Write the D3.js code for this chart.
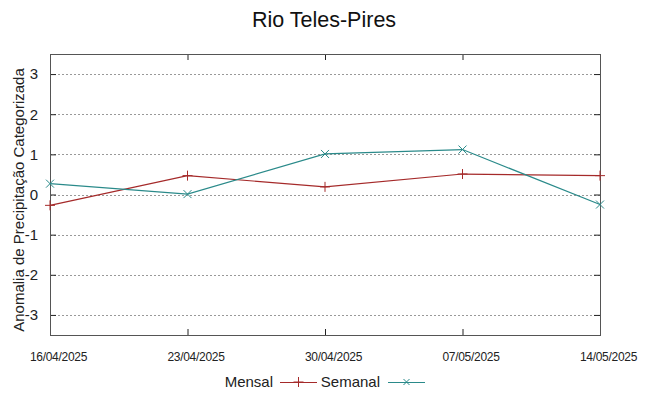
<!DOCTYPE html>
<html>
<head>
<meta charset="utf-8">
<script src="https://d3js.org/d3.v7.min.js"></script>
<style>
  body { margin: 0; background: #fff; }
  text { font-family: "Liberation Sans", Arial, sans-serif; }
</style>
</head>
<body>
<div id="chart"></div>
<script>
var width = 648;
var height = 396;

// data
var dates = ["16/04/2025", "23/04/2025", "30/04/2025", "07/05/2025", "14/05/2025"];
var mensal = [-0.27, 0.47, 0.19, 0.51, 0.47];
var semanal = [0.27, 0.01, 1.01, 1.12, -0.25];
var yTicks = [-3, -2, -1, 0, 1, 2, 3];

var redColor = '#a52a2a';
var tealColor = '#2a8a8a';

var margin = {left: 50, right: 48, top: 54, bottom: 61};

var svg = d3.select("#chart")
  .append("svg")
  .attr("width", width)
  .attr("height", height);

svg.append("rect")
  .attr("width", "100%")
  .attr("height", "100%")
  .attr("fill", "white");

var x = d3.scalePoint()
  .domain(dates)
  .range([margin.left, width - margin.right]);

var y = d3.scaleLinear()
  .domain([-3.5, 3.5])
  .range([height - margin.bottom, margin.top]);

// grid lines (dotted)
svg.append("g")
  .selectAll("line")
  .data(yTicks)
  .enter()
  .append("line")
  .attr("x1", margin.left)
  .attr("x2", width - margin.right)
  .attr("y1", function(d) { return Math.round(y(d)) + 0.5; })
  .attr("y2", function(d) { return Math.round(y(d)) + 0.5; })
  .style("stroke", "#999")
  .style("stroke-width", 1)
  .style("stroke-dasharray", "2,2");

// left axis, ticks pointing inside
var yAxis = d3.axisLeft(y).tickValues(yTicks).tickSize(-6).tickPadding(12)
  .tickFormat(function(d) { return String(d); });
var gy = svg.append("g")
  .attr("transform", "translate(" + margin.left + ",0)")
  .call(yAxis);
gy.select(".domain").remove();
gy.selectAll("line").style("stroke", "#222");
gy.selectAll("text").style("font-size", "15px").style("fill", "#222");

// right mirror ticks
var yAxisR = d3.axisRight(y).tickValues(yTicks).tickSize(-6).tickFormat("");
var gyr = svg.append("g")
  .attr("transform", "translate(" + (width - margin.right) + ",0)")
  .call(yAxisR);
gyr.select(".domain").remove();
gyr.selectAll("line").style("stroke", "#222");

// bottom axis
var xAxis = d3.axisBottom(x).tickSize(-6).tickPadding(17);
var gx = svg.append("g")
  .attr("transform", "translate(0," + (height - margin.bottom) + ")")
  .call(xAxis);
gx.select(".domain").remove();
gx.selectAll("line").style("stroke", "#222");
gx.selectAll("text")
  .attr("x", 8)   // labels sit a bit right of the tick, like in the original
  .style("font-size", "12px")
  .style("fill", "#222")
  .style("letter-spacing", "-0.3px");

// top mirror ticks
var xAxisT = d3.axisTop(x).tickSize(-6).tickFormat("");
var gxt = svg.append("g")
  .attr("transform", "translate(0," + margin.top + ")")
  .call(xAxisT);
gxt.select(".domain").remove();
gxt.selectAll("line").style("stroke", "#222");

// border
svg.append("rect")
  .attr("x", margin.left + 0.5)
  .attr("y", margin.top + 0.5)
  .attr("width", width - margin.left - margin.right)
  .attr("height", height - margin.top - margin.bottom)
  .style("fill", "none")
  .style("stroke", "#555")
  .style("stroke-width", 1);

var line = d3.line()
  .x(function(d, i) { return x(dates[i]); })
  .y(function(d) { return y(d); });

svg.append("path")
  .datum(mensal)
  .attr("d", line)
  .style("fill", "none")
  .style("stroke", redColor)
  .style("stroke-width", 1.2);

svg.append("path")
  .datum(semanal)
  .attr("d", line)
  .style("fill", "none")
  .style("stroke", tealColor)
  .style("stroke-width", 1.2);

// + markers
svg.append("g").selectAll("path")
  .data(mensal)
  .enter()
  .append("path")
  .attr("d", function(d, i) {
    var cx = x(dates[i]), cy = y(d);
    return "M" + (cx - 5) + "," + cy + "H" + (cx + 5) + "M" + cx + "," + (cy - 5) + "V" + (cy + 5);
  })
  .style("stroke", redColor)
  .style("stroke-width", 1);

// x markers
svg.append("g").selectAll("path")
  .data(semanal)
  .enter()
  .append("path")
  .attr("d", function(d, i) {
    var cx = x(dates[i]), cy = y(d);
    return "M" + (cx - 4) + "," + (cy - 4) + "L" + (cx + 4) + "," + (cy + 4) +
           "M" + (cx - 4) + "," + (cy + 4) + "L" + (cx + 4) + "," + (cy - 4);
  })
  .style("stroke", tealColor)
  .style("stroke-width", 1);

// title
svg.append("text")
  .attr("x", width / 2)
  .attr("y", 27)
  .attr("text-anchor", "middle")
  .style("font-size", "21.5px")
  .style("fill", "#111")
  .text("Rio Teles-Pires");

// y label
svg.append("text")
  .attr("transform", "translate(24,200) rotate(-90)")
  .attr("text-anchor", "middle")
  .style("font-size", "15px")
  .style("fill", "#222")
  .text("Anomalia de Precipitação Categorizada");

// legend
var legendItems = [
  {name: "Mensal", color: redColor, textX: 273, x1: 280, x2: 317, mark: "plus"},
  {name: "Semanal", color: tealColor, textX: 380, x1: 388, x2: 425, mark: "x"}
];
var ly = 382;
legendItems.forEach(function(item) {
  svg.append("text")
    .attr("x", item.textX)
    .attr("y", ly + 5)
    .attr("text-anchor", "end")
    .style("font-size", "15px")
    .style("fill", "#222")
    .text(item.name);
  svg.append("line")
    .attr("x1", item.x1).attr("x2", item.x2)
    .attr("y1", ly + 0.5).attr("y2", ly + 0.5)
    .style("stroke", item.color)
    .style("stroke-width", 1.2);
  var cx = (item.x1 + item.x2) / 2;
  var d = item.mark == "plus"
    ? "M" + (cx - 5) + "," + ly + "H" + (cx + 5) + "M" + cx + "," + (ly - 5) + "V" + (ly + 5)
    : "M" + (cx - 3) + "," + (ly - 3) + "L" + (cx + 3) + "," + (ly + 3) + "M" + (cx - 3) + "," + (ly + 3) + "L" + (cx + 3) + "," + (ly - 3);
  svg.append("path")
    .attr("d", d)
    .style("stroke", item.color)
    .style("stroke-width", 1);
});
</script>
</body>
</html>
